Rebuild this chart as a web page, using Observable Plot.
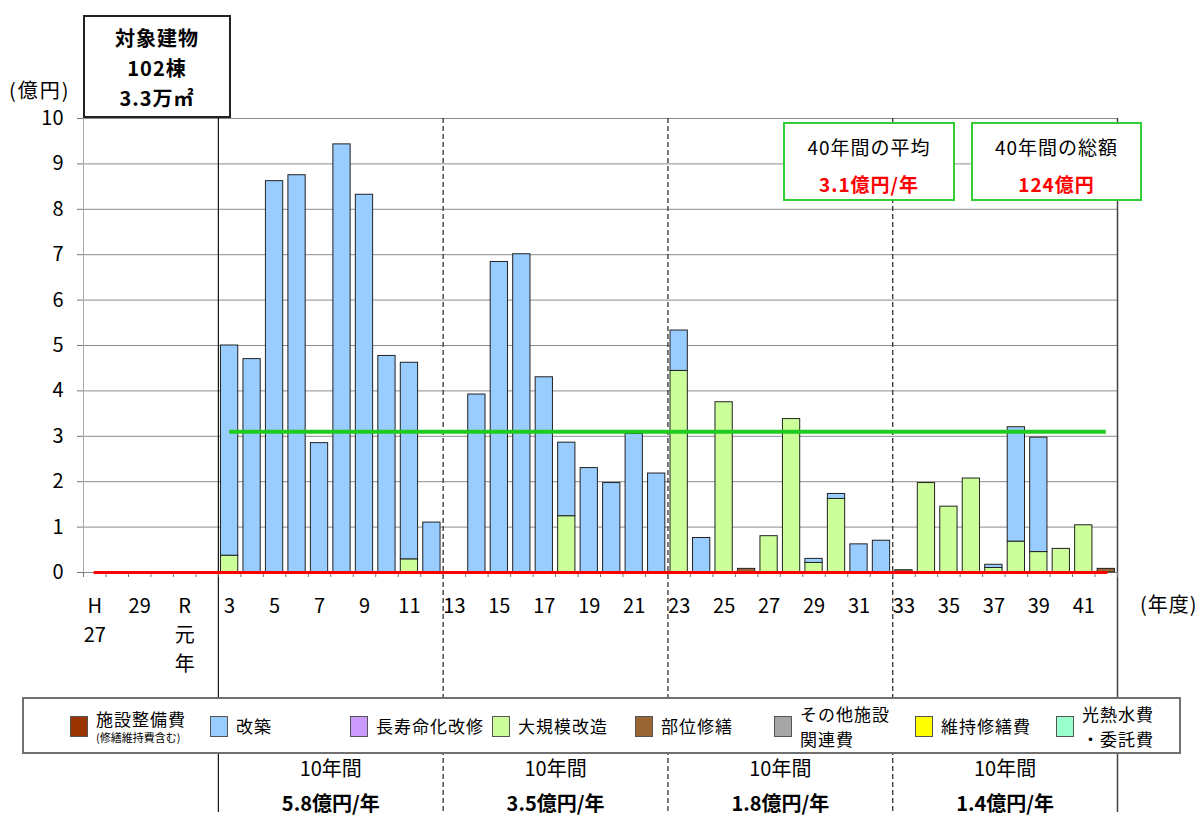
<!DOCTYPE html>
<html><head><meta charset="utf-8">
<script src="https://cdn.jsdelivr.net/npm/d3@7"></script>
<script src="https://cdn.jsdelivr.net/npm/@observablehq/plot@0.6"></script>
<style>
html,body{margin:0;padding:0;background:#fff;}
body{font-family:"Noto Sans CJK JP","Noto Sans",sans-serif;color:#000;}
#wrap{position:relative;width:1202px;height:821px;overflow:hidden;}
#wrap svg{position:absolute;left:0;top:0;}
.ov{position:absolute;z-index:2;box-sizing:border-box;white-space:nowrap;}
.box{background:#fff;text-align:center;}
#target{left:83px;top:15px;width:148px;height:103px;border:2px solid #222;font-weight:bold;font-size:20px;line-height:30px;padding-top:6px;letter-spacing:1px;}
.ann{top:122px;height:79px;border:2px solid #33cc33;font-size:19px;letter-spacing:1px;}
.ann .l1{position:absolute;left:0;right:0;top:9px;line-height:28px;}
.ann .l2{position:absolute;left:0;right:0;top:47px;line-height:26px;color:#ff0000;font-weight:bold;}
#ylab{left:9px;top:76px;font-size:20px;line-height:28px;letter-spacing:2px;}
#xlab{left:1140px;top:590px;font-size:20px;line-height:28px;letter-spacing:1px;}
#legend{left:22px;top:697px;width:1159px;height:57px;border:2px solid #707070;background:#fff;}
.item{position:absolute;top:0;height:53px;}
.sw{position:absolute;top:17px;width:18px;height:21px;border:1px solid #555;box-sizing:border-box;}
.lt{position:absolute;left:26px;white-space:nowrap;font-size:17px;letter-spacing:1px;}
</style></head><body>
<div id="wrap"></div>
<script>
// ---- data ----
const years = ["H27","H28","H29","H30","R1","R2",
  "R3","R4","R5","R6","R7","R8","R9","R10","R11","R12",
  "R13","R14","R15","R16","R17","R18","R19","R20","R21","R22",
  "R23","R24","R25","R26","R27","R28","R29","R30","R31","R32",
  "R33","R34","R35","R36","R37","R38","R39","R40","R41","R42"];
// 改築 (億円)
const kaichiku = [0,0,0,0,0,0,
  4.63,4.70,8.62,8.75,2.85,9.43,8.32,4.77,4.33,1.10,
  0,3.92,6.84,7.01,4.30,1.62,2.30,1.97,3.05,2.18,
  0.89,0.76,0,0,0,0,0.09,0.11,0.62,0.70,
  0,0,0,0,0.07,2.52,2.52,0,0,0];
// 大規模改造 (億円)
const daikibo = [0,0,0,0,0,0,
  0.37,0,0,0,0,0,0,0,0.29,0,
  0,0,0,0,0,1.24,0,0,0,0,
  4.44,0,3.75,0,0.80,3.38,0.21,1.62,0,0,
  0,1.97,1.45,2.07,0.10,0.68,0.45,0.52,1.04,0];
// 部位修繕 (億円)
const buiShuzen = [0,0,0,0,0,0,
  0,0,0,0,0,0,0,0,0,0,
  0,0,0,0,0,0,0,0,0,0,
  0,0,0,0.08,0,0,0,0,0,0,
  0.05,0,0,0,0,0,0,0,0,0.08];
// 施設整備費 (実績, 億円)
const shisetsuSeibi = [0,0,0,0,0,0,0,0,0,0,0,0,0,0,0,0,0,0,0,0,0,0,0,
  0,0,0,0,0,0,0,0,0,0,0,0,0,0,0,0,0,0,0,0,0,0,0];
const average40 = 3.1;
const averageFrom = "R3", averageTo = "R42";
const yTicks = [0,1,2,3,4,5,6,7,8,9,10];
const labelYears = ["H27","H29","R1","R3","R5","R7","R9","R11","R13","R15","R17","R19","R21",
  "R23","R25","R27","R29","R31","R33","R35","R37","R39","R41"];
const labelTexts = ["H\n27","29","R\n元\n年","3","5","7","9","11","13","15","17","19","21",
  "23","25","27","29","31","33","35","37","39","41"];
const decadeStarts = ["R3","R13","R23","R33"];
const decadeTitle = ["10年間","10年間","10年間","10年間"];
const decadeAverages = ["5.8億円/年","3.5億円/年","1.8億円/年","1.4億円/年"];
const legendCats = ["施設整備費","改築","長寿命化改修","大規模改造","部位修繕","その他施設関連費","維持修繕費","光熱水費・委託費"];
const legendColors = ["#993300","#99ccff","#cc99ff","#ccff99","#996633","#a6a6a6","#ffff00","#99ffcc"];
const legendLabels = [["施設整備費","(修繕維持費含む)"],["改築"],["長寿命化改修"],["大規模改造"],["部位修繕"],["その他施設","関連費"],["維持修繕費"],["光熱水費","・委託費"]];
const stackOrder = ["部位修繕","大規模改造","改築"];

// ---- build ----
const idx = y => years.indexOf(y);
const seriesList = [
  {name:"部位修繕", values:buiShuzen},
  {name:"大規模改造", values:daikibo},
  {name:"改築", values:kaichiku}
];
const rows = seriesList.flatMap(s => years.map((y,i)=>({year:y,i,cat:s.name,value:s.values[i]}))).filter(d=>d.value>0);
const redLine = years.map((y,i)=>({i, value:shisetsuSeibi[i]}));
const boundaries = years.map((y,i)=>i).concat([years.length]);
const labels = labelYears.map((y,k)=>({i:idx(y), text:labelTexts[k]}));
const decades = decadeStarts.map((y,k)=>({i:idx(y), title:decadeTitle[k], avg:decadeAverages[k]}));

const chart = Plot.plot({
  width:1202, height:821,
  marginLeft:83, marginRight:85, marginTop:118, marginBottom:249,
  style:{fontFamily:'"Noto Sans CJK JP","Noto Sans",sans-serif', fontSize:"20px", color:"#000", background:"transparent", overflow:"visible"},
  x:{domain:[0, years.length], axis:null},
  y:{domain:[0,10], axis:null},
  color:{domain:legendCats, range:legendColors},
  marks:[
    Plot.ruleY(yTicks, {stroke:"#8c8c8c", strokeWidth:1}),
    Plot.ruleX([0], {stroke:"#aaaaaa", strokeWidth:1}),
    Plot.ruleX([idx("R3")], {stroke:"#111", strokeWidth:1.2, insetBottom:-240}),
    Plot.ruleX(decadeStarts.slice(1).map(idx), {stroke:"#333", strokeWidth:1.3, strokeDasharray:"5,3", insetBottom:-240}),
    Plot.ruleX([years.length], {stroke:"#444", strokeWidth:1.5, insetBottom:-240}),
    Plot.rect(rows, {...Plot.stackY({x:"i", y:"value", z:"cat", order:stackOrder}),
      x1:d=>d.i, x2:d=>d.i+1, fill:"cat", stroke:"#222", strokeWidth:1, insetLeft:2.6, insetRight:2.6}),
    Plot.axisX({ticks:boundaries, tickSize:5, tickFormat:()=>"", stroke:"#777", label:null}),
    Plot.axisY({ticks:yTicks, tickSize:6, tickPadding:14, fontSize:20, stroke:"#777", label:null}),
    Plot.lineY(redLine, {x:d=>d.i+0.5, y:"value", stroke:"#ff0000", strokeWidth:3}),
    Plot.ruleY([average40], {x1:idx(averageFrom)+0.5, x2:idx(averageTo)+0.5, stroke:"#1ecb1e", strokeWidth:4}),
    Plot.text(labels, {x:d=>d.i+0.5, text:"text", frameAnchor:"bottom", lineAnchor:"top", dy:20, lineHeight:1.45, fontSize:20}),
    Plot.text(decades, {x:d=>d.i+5, text:"title", frameAnchor:"bottom", dy:203, fontSize:20}),
    Plot.text(decades, {x:d=>d.i+5, text:"avg", frameAnchor:"bottom", dy:238, fontSize:20, fontWeight:"bold"})
  ]
});
const wrap = document.getElementById("wrap");
wrap.appendChild(chart);

function addDiv(id, cls, html, style){
  const d=document.createElement("div"); if(id) d.id=id; d.className=cls; d.innerHTML=html;
  if(style) d.setAttribute("style", style); wrap.appendChild(d); return d;
}
addDiv("target","ov box","対象建物<br>102棟<br>3.3万㎡");
addDiv("ylab","ov","(億円)");
addDiv("xlab","ov","(年度)");
addDiv(null,"ov box ann",'<div class="l1">40年間の平均</div><div class="l2">'+average40+'億円/年</div>',"left:783px;width:172px;");
const total40 = d3.sum(kaichiku)+d3.sum(daikibo)+d3.sum(buiShuzen);
addDiv(null,"ov box ann",'<div class="l1">40年間の総額</div><div class="l2">'+Math.round(total40)+'億円</div>',"left:971px;width:171px;");

const lg = addDiv("legend","ov","");
const itemX = [46,186,326,468,611,750,891,1032];
legendCats.forEach((c,k)=>{
  const it=document.createElement("div"); it.className="item"; it.style.left=itemX[k]+"px";
  const sw=document.createElement("div"); sw.className="sw"; sw.style.background=legendColors[k]; it.appendChild(sw);
  const lab=legendLabels[k];
  if(lab.length===1){
    const t=document.createElement("div"); t.className="lt"; t.style.top="14px"; t.style.lineHeight="26px"; t.textContent=lab[0]; it.appendChild(t);
  } else if(k===0){
    const t=document.createElement("div"); t.className="lt"; t.style.top="9px"; t.style.lineHeight="22px"; t.textContent=lab[0]; it.appendChild(t);
    const s=document.createElement("div"); s.className="lt"; s.style.top="31px"; s.style.fontSize="11px"; s.style.lineHeight="14px"; s.style.letterSpacing="0px"; s.textContent=lab[1]; it.appendChild(s);
  } else {
    const t=document.createElement("div"); t.className="lt"; t.style.top="2px"; t.style.lineHeight="25px"; t.innerHTML=lab[0]+"<br>"+lab[1]; it.appendChild(t);
  }
  lg.appendChild(it);
});
</script>
</body></html>
